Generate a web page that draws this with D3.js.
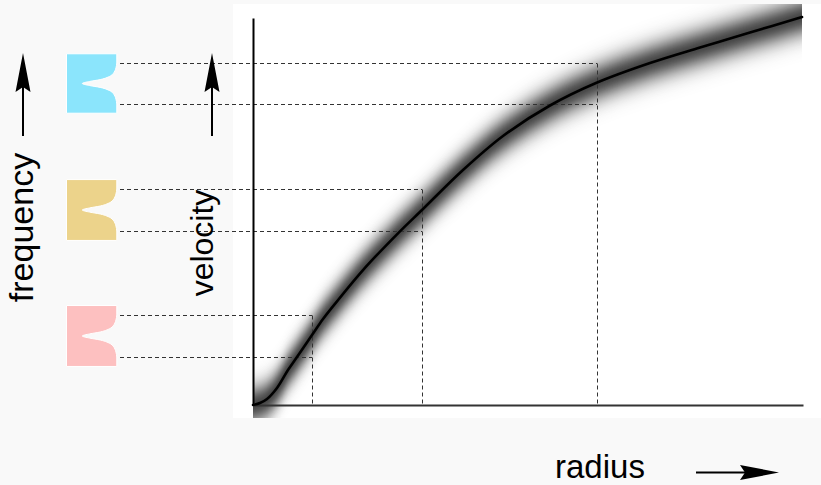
<!DOCTYPE html>
<html>
<head>
<meta charset="utf-8">
<script src="https://cdn.jsdelivr.net/npm/d3@7"></script>
<style>
  html, body { margin: 0; padding: 0; background: #f9f9f9; }
  svg { display: block; }
  text { font-family: "Liberation Sans", Arial, Helvetica, sans-serif; fill: #000; }
</style>
</head>
<body>
<script>
// ---- data ----
// rotation curve: radius (arbitrary units) and velocity (arbitrary units)
const curveRadius   = [0, 0.127, 0.255, 0.436, 0.636, 0.80, 1.073, 1.273, 1.40, 2.00, 2.618, 3.091, 3.818, 4.545, 5.40, 6.236, 7.218, 8.127, 9.036, 9.982];
const curveVelocity = [0, 0.052, 0.155, 0.439, 0.904, 1.24, 1.809, 2.222, 2.455, 3.488, 4.411, 5.065, 6.072, 6.951, 7.739, 8.320, 8.837, 9.238, 9.625, 10.026];

// three sampled radii, with the velocity range of the line at each
const sampleRadius = [1.073, 3.073, 6.255];
const sampleVLow   = [1.24, 4.496, 7.778];
const sampleVHigh  = [2.326, 5.581, 8.837];
const sampleColor  = ["#fdc0c0", "#ecd38b", "#8be5fc"];

// absorption line profile (half, symmetric): offset as fraction of the half range, depth as fraction of box width
const profileOffset = [0, 0.10, 0.19, 0.29, 0.38, 0.48, 0.62, 0.76, 1.0];
const profileDepth  = [0.686, 0.54, 0.33, 0.195, 0.118, 0.073, 0.037, 0.017, 0];

// ---- drawing ----
const W = 821, H = 485;
const svg = d3.select("body").append("svg").attr("width", W).attr("height", H);

svg.append("rect").attr("width", W).attr("height", H).attr("fill", "#f9f9f9");
svg.append("rect").attr("x", 233).attr("y", 4).attr("width", W - 233).attr("height", 414).attr("fill", "#ffffff");

const x = d3.scaleLinear().domain([0, 10]).range([253, 803]);
const y = d3.scaleLinear().domain([0, 10]).range([405, 18]);

const pts = curveRadius.map((r, i) => [r, curveVelocity[i]]);
const curveType = d3.curveCatmullRom.alpha(0.5);

const defs = svg.append("defs");
defs.append("clipPath").attr("id", "plotclip")
  .append("rect").attr("x", 233).attr("y", 4).attr("width", 802 - 233).attr("height", 414);

// dispersion band: nested areas, widest/lightest first, Gaussian falloff in velocity
const bandG = svg.append("g").attr("clip-path", "url(#plotclip)");
const peak = 0.72, sigma = 13.5;
for (let h = 44; h >= 0; h -= 1) {
  const dark = peak * Math.exp(-(h * h) / (2 * sigma * sigma));
  const c = Math.round(255 * (1 - dark));
  const area = d3.area()
    .x(d => x(d[0]))
    .y0(d => y(d[1]) + h + 0.5)
    .y1(d => y(d[1]) - h - 0.5)
    .curve(curveType);
  bandG.append("path").attr("d", area(pts)).attr("fill", `rgb(${c},${c},${c})`);
}

// spectra boxes
const boxX0 = 66.5, boxX1 = 116.8;
sampleRadius.forEach((r, i) => {
  const vc = (sampleVLow[i] + sampleVHigh[i]) / 2;
  const half = (sampleVHigh[i] - sampleVLow[i]) / 2;
  const boxHalf = half * 1.45;
  const yTop = y(vc + boxHalf), yBot = y(vc - boxHalf);
  const wBox = boxX1 - boxX0;
  const prof = [];
  for (let k = profileOffset.length - 1; k >= 0; k--) prof.push([vc + half * profileOffset[k], profileDepth[k]]);
  for (let k = 1; k < profileOffset.length; k++) prof.push([vc - half * profileOffset[k], profileDepth[k]]);
  const line = d3.line().x(d => boxX1 - d[1] * wBox).y(d => y(d[0])).curve(d3.curveMonotoneY);
  const profPath = line(prof);
  const d = `M${boxX0},${yTop} H${boxX1} V${y(vc + half)} ` + profPath.replace(/^M/, "L") + ` L${boxX1},${yBot} H${boxX0} Z`;
  svg.append("path").attr("d", d).attr("fill", sampleColor[i]).attr("stroke", "#ffffff").attr("stroke-width", 1);
});

// dashed guide lines
const g = svg.append("g").attr("stroke", "#333").attr("stroke-width", 1).attr("stroke-dasharray", "4,3").attr("fill", "none");
sampleRadius.forEach((r, i) => {
  [sampleVHigh[i], sampleVLow[i]].forEach(v => {
    g.append("line").attr("x1", 120).attr("x2", x(r)).attr("y1", Math.round(y(v)) + 0.5).attr("y2", Math.round(y(v)) + 0.5);
  });
  g.append("line").attr("x1", Math.round(x(r)) + 0.5).attr("x2", Math.round(x(r)) + 0.5)
    .attr("y1", Math.round(y(sampleVHigh[i])) + 0.5).attr("y2", y(0));
});

// axes (no ticks)
const xAxis = d3.axisBottom(x).ticks(0).tickSize(0).tickSizeOuter(0).tickFormat("");
const yAxis = d3.axisLeft(y).ticks(0).tickSize(0).tickSizeOuter(0).tickFormat("");
const gx = svg.append("g").attr("transform", `translate(0,${y(0)})`).call(xAxis);
gx.select(".domain").attr("stroke", "#333").attr("stroke-width", 2);
const gy = svg.append("g").attr("transform", `translate(${x(0)},0)`).call(yAxis);
gy.select(".domain").attr("stroke", "#000").attr("stroke-width", 2);

// rotation curve
svg.append("path")
  .attr("d", d3.line().x(d => x(d[0])).y(d => y(d[1])).curve(curveType)(pts))
  .attr("fill", "none").attr("stroke", "#000").attr("stroke-width", 2.6).attr("stroke-linecap", "round");

// arrows
function arrow(x1, y1, x2, y2) {
  const ang = Math.atan2(y2 - y1, x2 - x1);
  const L = 39, hw = 7.5, notch = 5;
  const ux = Math.cos(ang), uy = Math.sin(ang);
  const px = -uy, py = ux;
  const bx = x2 - ux * L, by = y2 - uy * L;
  const nx = x2 - ux * (L - notch), ny = y2 - uy * (L - notch);
  svg.append("line").attr("x1", x1).attr("y1", y1).attr("x2", nx).attr("y2", ny)
    .attr("stroke", "#000").attr("stroke-width", 2);
  svg.append("path")
    .attr("d", `M${x2},${y2} L${bx + px * hw},${by + py * hw} L${nx},${ny} L${bx - px * hw},${by - py * hw} Z`)
    .attr("fill", "#000");
}
arrow(23, 136, 23, 53);
arrow(212, 136, 212, 53);
arrow(696, 472.5, 779, 472.5);

// labels
svg.append("text").attr("transform", "translate(33,227.5) rotate(-90)")
  .attr("text-anchor", "middle").attr("font-size", 34).text("frequency");
svg.append("text").attr("transform", "translate(213,243) rotate(-90)")
  .attr("text-anchor", "middle").attr("font-size", 32).text("velocity");
svg.append("text").attr("x", 555).attr("y", 478)
  .attr("font-size", 33).text("radius");
</script>
</body>
</html>
